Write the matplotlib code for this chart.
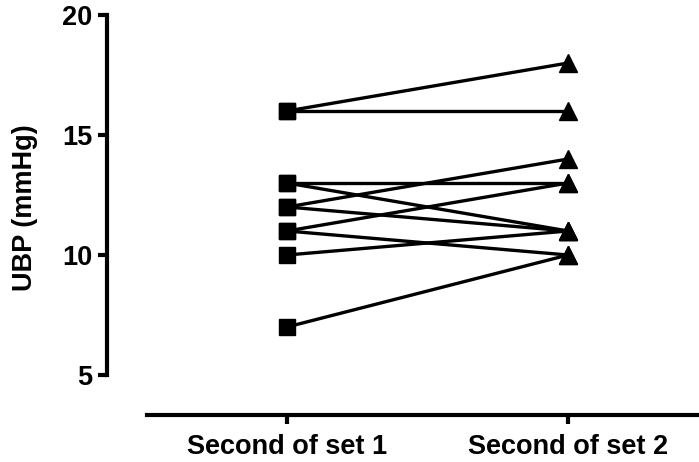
import matplotlib
matplotlib.use("Agg")
import matplotlib.pyplot as plt

# paired readings, one line per subject
groups = ['Second of set 1', 'Second of set 2']
set1 = [16, 16, 13, 13, 12, 12, 11, 11, 10, 7]
set2 = [18, 16, 13, 11, 14, 11, 13, 10, 11, 10]
y_ticks = [5, 10, 15, 20]

plt.rcParams['font.family'] = ['Liberation Sans', 'DejaVu Sans']
plt.rcParams['font.weight'] = 'bold'

fig = plt.figure(figsize=(6.99, 4.62), dpi=100)
ax = fig.add_axes([147 / 699, 87 / 462, 552 / 699, 360 / 462])

for a, b in zip(set1, set2):
    ax.plot([0, 1], [a, b], color='black', lw=2.4, zorder=2)
ax.plot([0] * len(set1), set1, 's', color='black', ms=11.5, zorder=3)
ax.plot([1] * len(set2), set2, '^', color='black', ms=12.5, zorder=3)

ax.set_xlim(-0.498, 1.466)
ax.set_ylim(5, 20)

# Prism-style detached axes
for s in ['top', 'right']:
    ax.spines[s].set_visible(False)
ax.spines['left'].set_position(('outward', 28.8))
ax.spines['bottom'].set_position(('outward', 28.8))
ax.spines['left'].set_linewidth(3)
ax.spines['bottom'].set_linewidth(3)
ax.spines['left'].set_bounds(5, 20)

ax.set_xticks([0, 1])
ax.set_xticklabels(groups, fontsize=19.5, fontweight='bold')
ax.set_yticks(y_ticks)
ax.set_yticklabels([str(t) for t in y_ticks], fontsize=19.5, fontweight='bold')
ax.tick_params(axis='both', width=3, length=6.5, color='black')
ax.tick_params(axis='y', pad=4)
ax.tick_params(axis='x', pad=7)

fig.text(25 / 699, 1 - 208 / 462, 'UBP (mmHg)', rotation=90, ha='center', va='center',
         fontsize=19.5, fontweight='bold')

fig.savefig('out.png', dpi=100)
